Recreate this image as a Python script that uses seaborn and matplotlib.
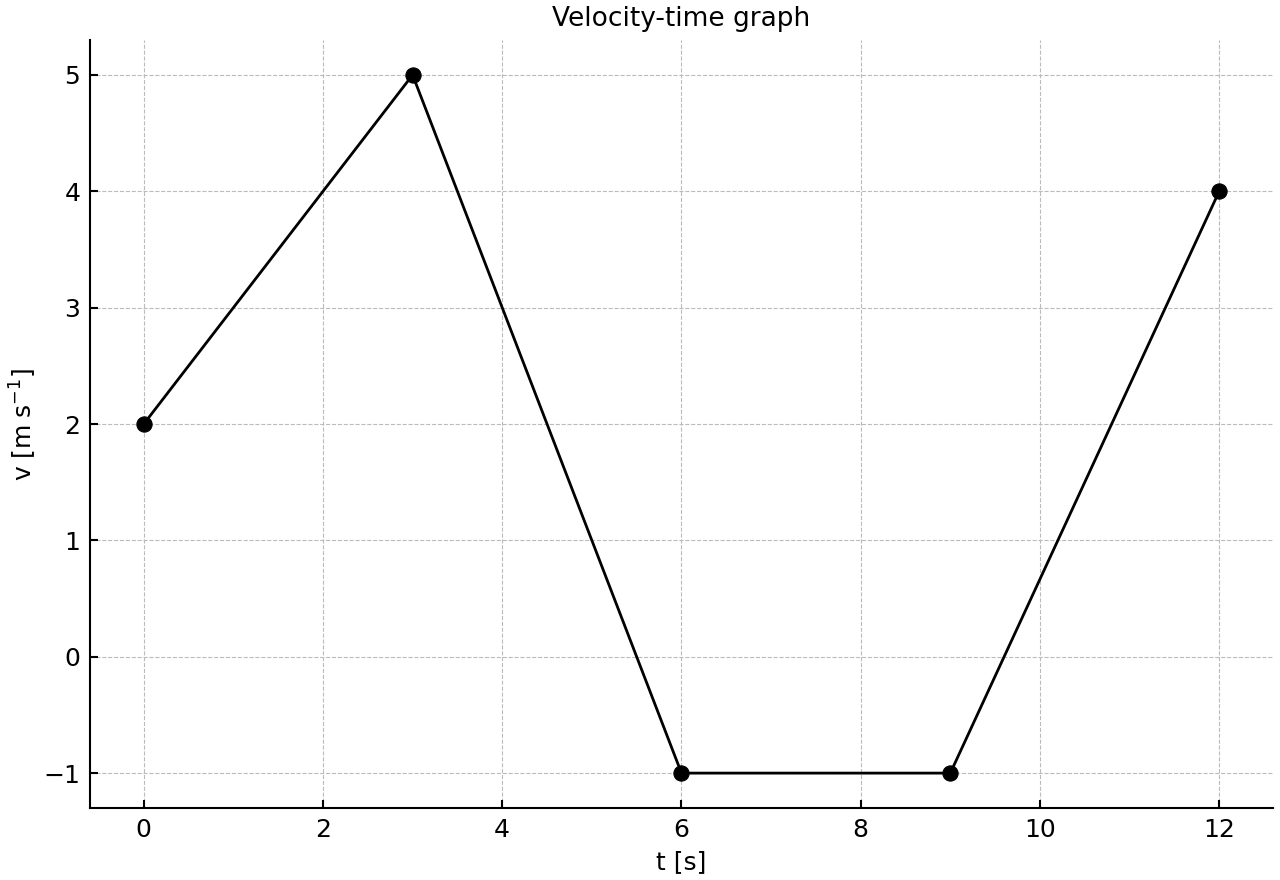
import matplotlib
matplotlib.use("Agg")
import matplotlib.pyplot as plt
import seaborn as sns
import pandas as pd

t_values = [0, 3, 6, 9, 12]
v_values = [2, 5, -1, -1, 4]

df = pd.DataFrame({"t": t_values, "v": v_values})

sns.set_style("ticks")
plt.rcParams['font.family'] = ['DejaVu Sans']
plt.rcParams['font.size'] = 18
for k in ["text.color", "axes.labelcolor", "xtick.color", "ytick.color"]:
    plt.rcParams[k] = "black"

fig, ax = plt.subplots(figsize=(12.8, 8.8), dpi=100)
fig.subplots_adjust(left=0.0703, right=0.9945, top=0.9545, bottom=0.0818)

sns.lineplot(data=df, x="t", y="v", ax=ax, color="black", linewidth=2,
             marker="o", markersize=11, markeredgecolor="black", zorder=3)

ax.set_xlim(-0.6, 12.6)
ax.set_ylim(-1.3, 5.3)
ax.set_xticks([0, 2, 4, 6, 8, 10, 12])
ax.set_yticks([-1, 0, 1, 2, 3, 4, 5])
ax.grid(True, linestyle="--", color="#bbbbbb", linewidth=0.8)
ax.set_axisbelow(True)
ax.tick_params(direction="in", labelsize=18, length=6, width=1.5, pad=7)
for s in ["left", "bottom"]:
    ax.spines[s].set_linewidth(1.5)
    ax.spines[s].set_color("black")
ax.spines["top"].set_visible(False)
ax.spines["right"].set_visible(False)

ax.set_xlabel("t [s]", fontsize=18, labelpad=6)
ax.set_ylabel(r"v [m$\;$s$^{-1}$]", fontsize=18, labelpad=3)
ax.set_title("Velocity-time graph", fontsize=19, pad=10)

fig.savefig("out.png", dpi=100)
